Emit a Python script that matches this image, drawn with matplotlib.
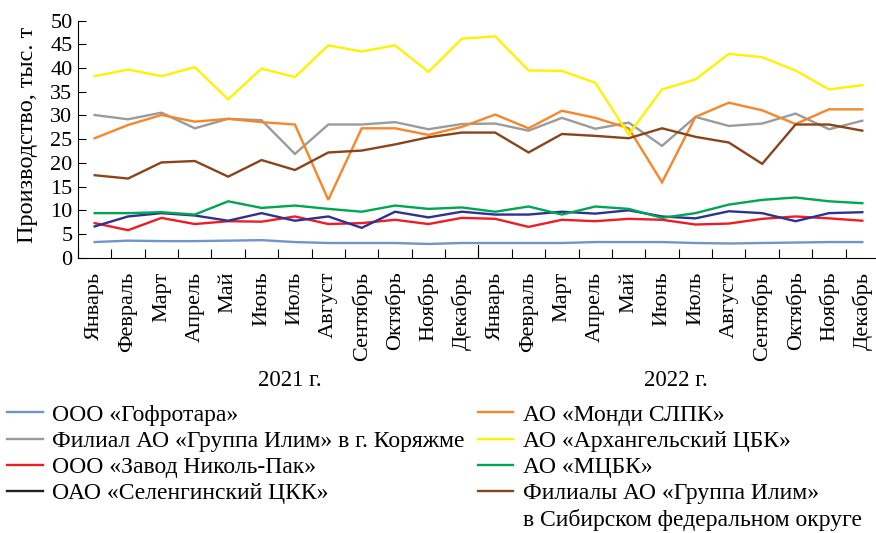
import matplotlib
matplotlib.use("Agg")
import matplotlib.pyplot as plt
from matplotlib.lines import Line2D

plt.rcParams['font.family'] = ['Liberation Serif', 'DejaVu Serif']

months = ["Январь", "Февраль", "Март", "Апрель", "Май", "Июнь", "Июль", "Август",
          "Сентябрь", "Октябрь", "Ноябрь", "Декабрь"] * 2
years = ["2021 г.", "2022 г."]

gofrotara = [3.3, 3.6, 3.5, 3.5, 3.6, 3.7, 3.3, 3.1, 3.1, 3.1, 2.9, 3.1,
             3.1, 3.1, 3.1, 3.3, 3.3, 3.3, 3.1, 3.0, 3.1, 3.2, 3.3, 3.3]
koryazhma = [30.1, 29.2, 30.6, 27.3, 29.3, 29.0, 21.9, 28.1, 28.1, 28.6, 27.1, 28.2,
             28.3, 26.8, 29.5, 27.2, 28.5, 23.6, 29.7, 27.8, 28.3, 30.4, 27.1, 28.9]
nikolpak = [7.3, 5.8, 8.4, 7.1, 7.7, 7.6, 8.7, 7.1, 7.3, 8.0, 7.1, 8.4,
            8.2, 6.5, 8.0, 7.7, 8.2, 8.0, 7.0, 7.2, 8.2, 8.7, 8.3, 7.8]
selenga = [6.6, 8.7, 9.4, 8.9, 7.8, 9.4, 7.8, 8.7, 6.3, 9.7, 8.5, 9.7,
           9.1, 9.1, 9.7, 9.3, 10.0, 8.7, 8.3, 9.8, 9.4, 7.7, 9.4, 9.6]
mondi = [25.2, 28.0, 30.1, 28.7, 29.3, 28.6, 28.1, 12.2, 27.3, 27.3, 25.9, 27.6,
         30.2, 27.3, 31.0, 29.5, 27.3, 15.9, 29.7, 32.7, 31.1, 28.2, 31.3, 31.3]
arkh = [38.3, 39.7, 38.3, 40.2, 33.4, 39.9, 38.1, 44.8, 43.5, 44.8, 39.2, 46.2,
        46.7, 39.5, 39.4, 36.9, 26.0, 35.5, 37.6, 43.0, 42.3, 39.5, 35.5, 36.4]
mcbk = [9.4, 9.4, 9.6, 9.1, 11.9, 10.5, 11.0, 10.3, 9.7, 11.0, 10.3, 10.6,
        9.7, 10.8, 9.1, 10.8, 10.3, 8.4, 9.4, 11.2, 12.2, 12.7, 11.9, 11.5]
sibir = [17.4, 16.7, 20.1, 20.4, 17.1, 20.6, 18.5, 22.2, 22.6, 23.9, 25.4, 26.4,
         26.4, 22.2, 26.1, 25.7, 25.2, 27.3, 25.5, 24.3, 19.8, 28.1, 28.1, 26.8]

series = [
    ("ООО «Гофротара»", gofrotara, "#6f95c9", None),
    ("Филиал АО «Группа Илим» в г. Коряжме", koryazhma, "#9b9b9b", None),
    ("ООО «Завод Николь-Пак»", nikolpak, "#ee1c25", None),
    ("ОАО «Селенгинский ЦКК»", selenga, "#2e3192", "#231f20"),
    ("АО «Монди СЛПК»", mondi, "#f7862a", None),
    ("АО «Архангельский ЦБК»", arkh, "#fff200", None),
    ("АО «МЦБК»", mcbk, "#00a651", None),
    ("Филиалы АО «Группа Илим»", sibir, "#8b4419", None),
]
last_label_line2 = "в Сибирском федеральном округе"

W, H = 876, 533
fig = plt.figure(figsize=(W / 100, H / 100), dpi=100)
ax = fig.add_axes([78 / W, 1 - 257.7 / H, (879 - 78) / W, (257.7 - 20.7) / H])

x = list(range(len(months)))
handles = []
for label, vals, col, lcol in series:
    ax.plot(x, vals, color=col, lw=1.7, solid_joinstyle='miter')
    handles.append(Line2D([0], [0], color=lcol if lcol else col, lw=1.7))

ax.set_xlim(-0.5, len(months) - 0.5)
ax.set_ylim(0, 50)
ax.set_yticks(range(0, 51, 5))
ax.tick_params(axis='y', direction='in', length=6, width=0.8, labelsize=16, pad=4)

ax.set_xticks([i - 0.5 for i in range(len(months) + 1)])
ax.set_xticklabels([])
ax.tick_params(axis='x', which='major', direction='in', length=6.5, width=0.8)
ax.set_xticks(x, minor=True)
ax.set_xticklabels(months, minor=True, rotation=90, fontsize=16)
ax.tick_params(axis='x', which='minor', length=0, pad=10)
for t in ax.get_xticklabels(minor=True):
    t.set_va('top')
# longer tick at the year boundary
ax.plot([11.5, 11.5], [0, 2.7], color='black', lw=0.8, clip_on=False)

for s in ['top', 'right']:
    ax.spines[s].set_visible(False)
for s in ['left', 'bottom']:
    ax.spines[s].set_linewidth(0.8)

ax.set_ylabel("Производство, тыс. т", fontsize=17.5)
ax.yaxis.set_label_coords(-0.05, 0.52)

fig.text(290 / W, 1 - 381 / H, years[0], ha='center', va='center', fontsize=16.5)
fig.text(676 / W, 1 - 381 / H, years[1], ha='center', va='center', fontsize=16.5)

leg = fig.legend(handles, [s[0] for s in series], ncol=2, loc='upper left',
                 bbox_to_anchor=(0 / W, 1 - 397 / H), frameon=False, fontsize=17,
                 handlelength=1.5, handletextpad=0.42, columnspacing=0.55,
                 labelspacing=0.2, borderaxespad=0, borderpad=0.3)

fig.canvas.draw()
r = fig.canvas.get_renderer()
last = leg.get_texts()[-1]
bb = last.get_window_extent(r)
prev = leg.get_texts()[-2].get_window_extent(r)
pitch = prev.y0 - bb.y0
fig.text(bb.x0 / W, max(bb.y0 - pitch, 2) / H, last_label_line2, ha='left',
         va='bottom', fontsize=17)

fig.savefig("out.png", dpi=100)
